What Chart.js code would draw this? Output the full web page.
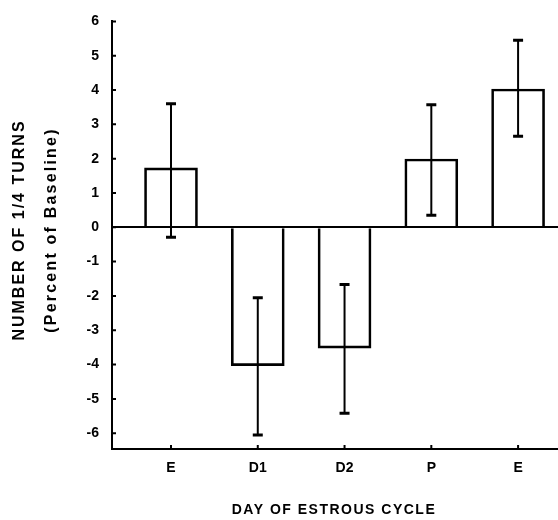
<!DOCTYPE html>
<html>
<head>
<meta charset="utf-8">
<script src="https://cdn.jsdelivr.net/npm/chart.js@4"></script>
<style>
  body { margin: 0; background: #fff; }
  #wrap { width: 558px; height: 520px; position: relative; }
</style>
</head>
<body>
<div id="wrap"><canvas id="chart"></canvas></div>
<script>
// Données
const categories = ['E', 'D1', 'D2', 'P', 'E'];
const means = [1.73, -4.03, -3.52, 1.99, 4.03];
const errHigh = [3.6, -2.05, -1.67, 3.57, 5.45];
const errLow = [-0.29, -6.05, -5.42, 0.35, 2.65];
const yTickValues = [-6, -5, -4, -3, -2, -1, 0, 1, 2, 3, 4, 5, 6];

const xTitle = 'DAY OF ESTROUS CYCLE';
const yTitle = ['NUMBER OF 1/4 TURNS', '(Percent of Baseline)'];

const FONT = '"Liberation Sans", Arial, Helvetica, sans-serif';

// Barres d'erreur + petites graduations internes
const errorBars = {
    id: 'errorBars',
    afterDatasetsDraw(chart) {
        const { ctx, scales: { x, y }, chartArea } = chart;
        ctx.save();
        ctx.strokeStyle = '#000';
        categories.forEach((c, i) => {
            const px = x.getPixelForValue(i);
            const hi = y.getPixelForValue(errHigh[i]);
            const lo = y.getPixelForValue(errLow[i]);
            ctx.lineWidth = 2;
            ctx.beginPath();
            ctx.moveTo(px, hi);
            ctx.lineTo(px, lo);
            ctx.stroke();
            ctx.lineWidth = 3;
            ctx.beginPath();
            ctx.moveTo(px - 5, hi);
            ctx.lineTo(px + 5, hi);
            ctx.moveTo(px - 5, lo);
            ctx.lineTo(px + 5, lo);
            ctx.stroke();
        });
        // graduations
        ctx.lineWidth = 2;
        ctx.beginPath();
        yTickValues.forEach(v => {
            const py = y.getPixelForValue(v);
            ctx.moveTo(chartArea.left, py);
            ctx.lineTo(chartArea.left + 4, py);
        });
        categories.forEach((c, i) => {
            const px = x.getPixelForValue(i);
            ctx.moveTo(px, chartArea.bottom);
            ctx.lineTo(px, chartArea.bottom - 4);
        });
        ctx.stroke();
        ctx.restore();
    }
};

// Titres des axes (avec espacement des lettres)
const axisTitles = {
    id: 'axisTitles',
    afterDraw(chart) {
        const { ctx } = chart;
        ctx.save();
        ctx.fillStyle = '#000';
        ctx.textAlign = 'center';
        ctx.textBaseline = 'middle';
        ctx.font = 'bold 14px ' + FONT;
        ctx.letterSpacing = '1.5px';
        ctx.fillText(xTitle, 334, 510);

        ctx.translate(0, 230);
        ctx.rotate(-Math.PI / 2);
        ctx.font = 'bold 16px ' + FONT;
        ctx.letterSpacing = '2px';
        ctx.fillText(yTitle[0], 0, 20);
        ctx.font = 'bold 16px ' + FONT;
        ctx.letterSpacing = '2.2px';
        ctx.fillText(yTitle[1], 0, 52);
        ctx.restore();
    }
};

new Chart(document.getElementById('chart'), {
    type: 'bar',
    data: {
        datasets: [{
            data: categories.map((c, i) => ({ x: i, y: means[i] })),
            backgroundColor: 'rgba(255,255,255,0)',
            borderColor: '#000',
            borderWidth: 2,
            borderSkipped: 'start',
            barThickness: 53
        }]
    },
    options: {
        responsive: true,
        maintainAspectRatio: false,
        animation: false,
        layout: { padding: { top: 15, right: 0, left: 0, bottom: 0 } },
        plugins: {
            legend: { display: false },
            tooltip: { enabled: false }
        },
        scales: {
            x: {
                type: 'linear',
                offset: false,
                min: -0.68,
                max: 4.46,
                afterBuildTicks: scale => {
                    scale.ticks = categories.map((c, i) => ({ value: i }));
                },
                afterFit: scale => { scale.height = 71; },
                grid: { display: false, drawTicks: false, offset: false },
                border: { color: '#000', width: 2 },
                ticks: {
                    padding: 11,
                    color: '#000',
                    font: { family: FONT, size: 14, weight: 'bold' },
                    callback: v => categories[v]
                }
            },
            y: {
                min: -6.46,
                max: 6,
                afterBuildTicks: scale => {
                    scale.ticks = yTickValues.map(v => ({ value: v }));
                },
                afterFit: scale => { scale.width = 112; },
                grid: {
                    drawTicks: false,
                    lineWidth: 2,
                    color: ctx => (ctx.tick && ctx.tick.value === 0) ? '#000' : 'rgba(0,0,0,0)'
                },
                border: { color: '#000', width: 2 },
                ticks: {
                    padding: 13,
                    color: '#000',
                    font: { family: FONT, size: 14, weight: 'bold' }
                }
            }
        }
    },
    plugins: [errorBars, axisTitles]
});
</script>
</body>
</html>
